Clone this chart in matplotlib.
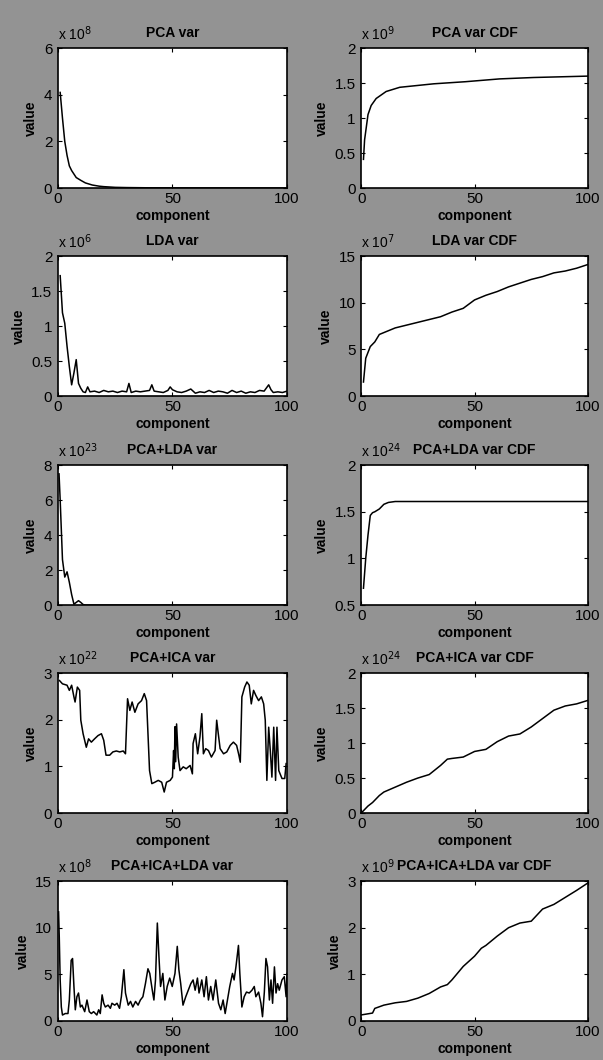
import numpy as np
import matplotlib.pyplot as plt

plt.rcParams['font.family'] = ['Liberation Sans', 'DejaVu Sans']
plt.rcParams['font.size'] = 9

# PCA var (x 10^8)
pca_x = [1, 2, 3, 4, 5, 6, 8, 10, 12, 15, 18, 20, 25, 30, 40, 60, 80, 100]
pca_y = [4.1, 3.0, 2.0, 1.4, 0.95, 0.75, 0.45, 0.33, 0.22, 0.13, 0.08, 0.06, 0.03, 0.02, 0.01, 0.005, 0.003, 0.002]

# PCA var CDF (x 10^9)
pcacdf_x = [1, 1.5, 3, 4.4, 6.6, 11, 17, 32, 46, 61, 76, 100]
pcacdf_y = [0.41, 0.69, 1.05, 1.18, 1.28, 1.38, 1.44, 1.49, 1.52, 1.56, 1.58, 1.60]

# LDA var (x 10^6)
lda_x = [1, 2, 3, 4, 5, 6, 7, 8, 9, 10, 11, 12, 13, 14, 16, 18, 20, 22, 24, 26, 28, 30, 31,
         32, 34, 36, 38, 40, 41, 42, 44, 46, 48, 49, 50, 52, 54, 56, 58, 60, 62, 64, 66,
         68, 70, 72, 74, 76, 78, 80, 82, 84, 86, 88, 90, 92, 93, 94, 96, 98, 100]
lda_y = [1.72, 1.19, 1.04, 0.71, 0.42, 0.16, 0.33, 0.52, 0.18, 0.11, 0.06, 0.05, 0.13, 0.06,
         0.07, 0.05, 0.08, 0.06, 0.07, 0.05, 0.07, 0.06, 0.18, 0.05, 0.07, 0.06, 0.07, 0.08,
         0.16, 0.07, 0.06, 0.05, 0.08, 0.13, 0.09, 0.06, 0.05, 0.07, 0.10, 0.04, 0.06, 0.05,
         0.08, 0.05, 0.07, 0.06, 0.04, 0.08, 0.05, 0.07, 0.04, 0.06, 0.05, 0.08, 0.07, 0.16,
         0.09, 0.05, 0.06, 0.05, 0.07]

# LDA var CDF (x 10^7)
ldacdf_x = [1, 2, 4, 6, 8, 10, 15, 20, 25, 30, 35, 40, 45, 50, 55, 60, 65, 70, 75, 80, 85, 90, 95, 100]
ldacdf_y = [1.5, 4.05, 5.3, 5.8, 6.6, 6.8, 7.3, 7.6, 7.9, 8.2, 8.5, 9.0, 9.4, 10.3, 10.8,
            11.2, 11.7, 12.1, 12.5, 12.8, 13.2, 13.4, 13.7, 14.1]

# PCA+LDA var (x 10^23)
pl_x = [0.5, 1, 2, 3, 4, 5, 6, 7, 8, 9, 10, 11, 12, 20, 40, 60, 80, 100]
pl_y = [7.5, 6.0, 2.6, 1.6, 1.9, 1.3, 0.6, 0.05, 0.15, 0.25, 0.15, 0.03, 0.0, 0.0, 0.0, 0.0, 0.0, 0.0]

# PCA+LDA var CDF (x 10^24)
plcdf_x = [1, 2, 3, 4, 5, 6, 8, 10, 12, 15, 30, 50, 70, 100]
plcdf_y = [0.68, 1.0, 1.25, 1.46, 1.49, 1.50, 1.53, 1.58, 1.60, 1.61, 1.61, 1.61, 1.61, 1.61]

# PCA+ICA var (x 10^22)
pi_x = [0.7, 2, 4, 5, 6, 7, 7.5, 8.5, 9.5, 10, 11, 12.4, 13.4, 14.6, 16, 17.5, 19, 20, 21,
        22.6, 24, 25.5, 27, 28.5, 29.5, 30.4, 31.4, 32.4, 33.6, 35, 36.5, 37.7, 38.7, 40,
        41, 42.3, 43.8, 45.3, 46.4, 47.4, 49, 50, 50.5, 50.8, 51.1, 51.4, 51.8, 52.5, 53.3,
        54.7, 56, 57.7, 58.7, 59, 60, 61, 62, 62.8, 63.5, 64.5, 65.7, 67, 68.6, 69.3, 70,
        70.8, 72.3, 73.7, 75.2, 76.6, 78, 79, 79.6, 80.3, 81.5, 82.5, 83.5, 84.4, 85.4,
        86.4, 87.6, 88.8, 89.8, 90.5, 91.2, 92, 92.7, 93.4, 94.2, 95, 95.6, 96.4, 97.8, 99, 99.6]
pi_y = [2.84, 2.77, 2.74, 2.63, 2.74, 2.49, 2.38, 2.70, 2.63, 1.99, 1.70, 1.41, 1.59, 1.52,
        1.59, 1.66, 1.70, 1.56, 1.24, 1.24, 1.31, 1.33, 1.31, 1.33, 1.27, 2.45, 2.20, 2.38,
        2.16, 2.34, 2.41, 2.56, 2.41, 0.91, 0.63, 0.66, 0.70, 0.66, 0.45, 0.66, 0.70, 0.77,
        1.34, 0.95, 1.85, 1.10, 1.91, 1.20, 0.91, 0.99, 0.95, 1.02, 0.84, 1.49, 1.70, 1.27,
        1.63, 2.13, 1.27, 1.38, 1.34, 1.20, 1.34, 1.99, 1.70, 1.38, 1.27, 1.31, 1.45, 1.52,
        1.45, 1.24, 1.09, 2.49, 2.70, 2.81, 2.74, 2.34, 2.63, 2.52, 2.41, 2.49, 2.34, 1.99,
        0.70, 1.84, 1.34, 0.77, 1.84, 0.70, 1.84, 0.91, 0.74, 0.74, 1.06]

# PCA+ICA var CDF (x 10^24)
picdf_x = [0, 3, 5, 8, 10, 15, 20, 25, 30, 35, 38, 40, 45, 50, 55, 60, 65, 70, 75, 80, 85, 90, 95, 100]
picdf_y = [0.0, 0.1, 0.15, 0.25, 0.3, 0.37, 0.44, 0.5, 0.55, 0.68, 0.77, 0.78, 0.8, 0.88,
           0.91, 1.02, 1.1, 1.13, 1.23, 1.35, 1.47, 1.53, 1.56, 1.61]

# PCA+ICA+LDA var (x 10^8)
pil_x = [0.3, 0.6, 1, 1.5, 2, 3.2, 4.4, 5, 5.8, 6.4, 7, 7.6, 8.3, 9, 9.8, 10.5, 11.7, 12.7,
         13.7, 14.6, 15.6, 17, 17.8, 18.5, 19.3, 20, 20.7, 21.9, 22.9, 23.6, 24.8, 25.8,
         26.9, 27.7, 28.8, 29.5, 30.7, 31.7, 32.7, 33.9, 35, 36, 37.1, 38.2, 39.3, 40.1,
         41.2, 41.9, 42.6, 43.4, 44.1, 44.8, 45.8, 46.7, 47.7, 48.8, 49.9, 51.1, 52.1, 52.8,
         53.6, 54.6, 55.8, 56.9, 58, 59, 59.9, 60.9, 61.6, 62.8, 63.8, 64.8, 65.7, 66.7,
         67.7, 68.9, 70.1, 71.1, 72.1, 73, 74, 75, 76.2, 76.9, 77.7, 78.8, 79.4, 80.3, 81.3,
         82.3, 83.5, 84.7, 85.7, 86.4, 87.6, 88.6, 89.3, 90.1, 90.8, 91.5, 92.3, 93, 93.7,
         94.5, 95.2, 95.9, 96.6, 97.8, 98.8, 99.6, 100]
pil_y = [11.7, 9.0, 4.4, 1.5, 0.64, 0.8, 0.8, 2.25, 6.5, 6.7, 3.7, 1.2, 2.6, 3.0, 1.5, 1.7,
         1.0, 2.25, 1.0, 0.8, 1.0, 0.64, 1.2, 0.8, 2.8, 1.9, 1.5, 1.7, 1.36, 1.9, 1.7, 1.9,
         1.36, 2.6, 5.5, 3.0, 1.7, 2.1, 1.5, 2.1, 1.7, 2.25, 2.6, 4.0, 5.6, 5.1, 3.3, 2.25,
         4.4, 10.5, 6.9, 3.7, 5.1, 2.25, 3.7, 4.6, 3.7, 5.1, 8.0, 5.5, 4.0, 1.7, 2.6, 3.3,
         4.0, 4.4, 3.3, 4.6, 3.0, 4.4, 2.6, 4.75, 2.25, 3.7, 2.25, 4.4, 1.9, 1.2, 2.25, 0.8,
         2.25, 3.7, 5.1, 4.4, 5.8, 8.1, 5.1, 1.5, 2.6, 3.1, 3.0, 3.3, 3.7, 2.6, 3.1, 1.9,
         0.46, 3.1, 6.7, 5.8, 2.25, 4.4, 1.9, 5.8, 3.0, 4.0, 3.3, 4.4, 4.75, 2.6, 5.1]

# PCA+ICA+LDA var CDF (x 10^9)
pilcdf_x = [0, 5, 6, 10, 15, 20, 25, 30, 35, 38, 40, 45, 50, 53, 55, 60, 65, 70, 75, 80, 85, 90, 95, 100]
pilcdf_y = [0.13, 0.17, 0.27, 0.34, 0.39, 0.42, 0.49, 0.59, 0.73, 0.78, 0.88, 1.17, 1.39,
            1.56, 1.62, 1.82, 2.0, 2.1, 2.14, 2.4, 2.5, 2.65, 2.8, 2.96]

titles = ['PCA var', 'PCA var CDF', 'LDA var', 'LDA var CDF', 'PCA+LDA var', 'PCA+LDA var CDF',
          'PCA+ICA var', 'PCA+ICA var CDF', 'PCA+ICA+LDA var', 'PCA+ICA+LDA var CDF']
exponents = [8, 9, 6, 7, 23, 24, 22, 24, 8, 9]
series = [(pca_x, pca_y), (pcacdf_x, pcacdf_y), (lda_x, lda_y), (ldacdf_x, ldacdf_y),
          (pl_x, pl_y), (plcdf_x, plcdf_y), (pi_x, pi_y), (picdf_x, picdf_y),
          (pil_x, pil_y), (pilcdf_x, pilcdf_y)]
ylims = [(0, 6), (0, 2), (0, 2), (0, 15), (0, 8), (0.5, 2), (0, 3), (0, 2), (0, 15), (0, 3)]
yticks = [[0, 2, 4, 6], [0, 0.5, 1, 1.5, 2], [0, 0.5, 1, 1.5, 2], [0, 5, 10, 15],
          [0, 2, 4, 6, 8], [0.5, 1, 1.5, 2], [0, 1, 2, 3], [0, 0.5, 1, 1.5, 2],
          [0, 5, 10, 15], [0, 1, 2, 3]]

fig = plt.figure(figsize=(6.03, 10.6), dpi=100, facecolor='#939393')

lefts = [0.096, 0.599]
widths = [0.380, 0.376]
bottoms = [0.8226, 0.6264, 0.4292, 0.233, 0.0368]
h = 0.132

for i in range(10):
    r, c = divmod(i, 2)
    ax = fig.add_axes([lefts[c], bottoms[r], widths[c], h])
    x, y = series[i]
    ax.plot(x, y, color='black', linewidth=1.1)
    ax.set_xlim(0, 100)
    ax.set_ylim(*ylims[i])
    ax.set_xticks([0, 50, 100])
    ax.set_yticks(yticks[i])
    ax.set_yticklabels(['%g' % v for v in yticks[i]])
    ax.tick_params(direction='in', top=True, right=True, length=3, labelsize=11)
    ax.tick_params(axis='x', pad=3)
    ax.tick_params(axis='y', pad=4)
    for s in ax.spines.values():
        s.set_linewidth(1.2)
    ax.set_title(titles[i], fontsize=10, pad=8, fontweight='bold')
    ax.set_xlabel('component', fontsize=10, labelpad=2, fontweight='bold')
    ax.set_ylabel('value', fontsize=10, labelpad=4, fontweight='bold')
    ax.text(0.0, 1.035, r'x 10$^{%d}$' % exponents[i], transform=ax.transAxes,
            fontsize=10, ha='left', va='bottom')

fig.savefig('out.png', dpi=100, facecolor=fig.get_facecolor())
